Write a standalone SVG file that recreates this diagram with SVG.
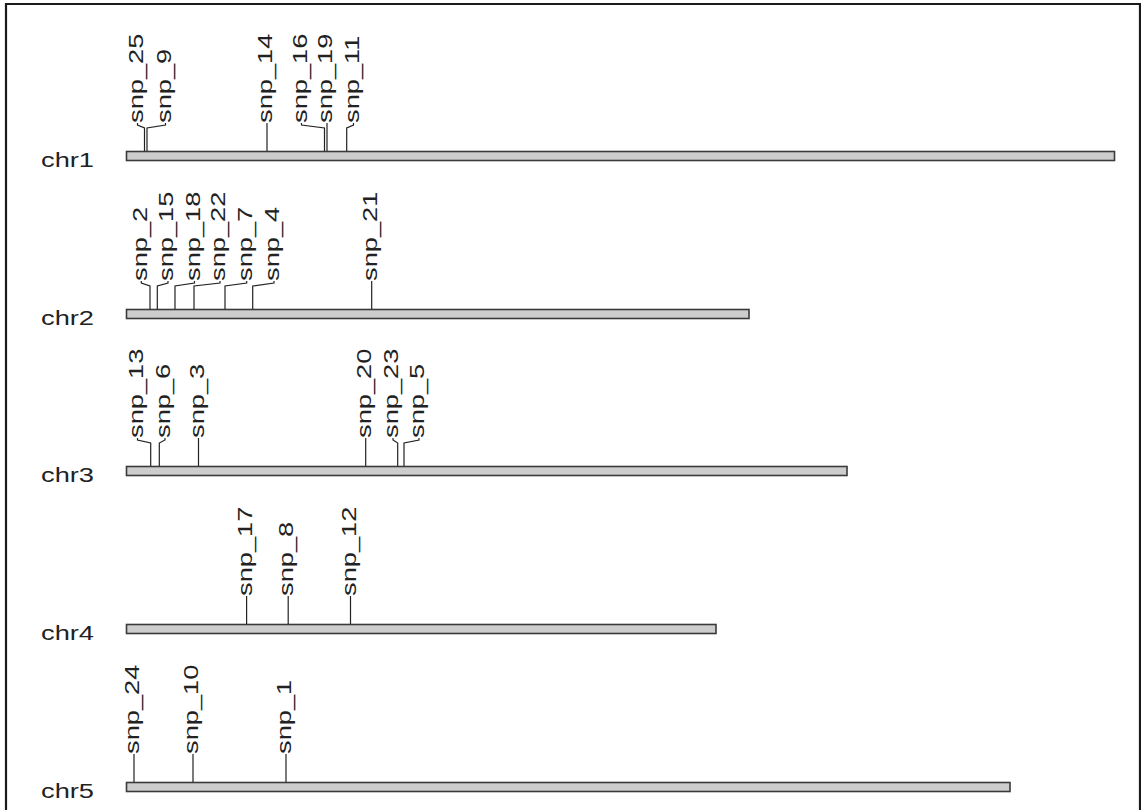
<svg xmlns="http://www.w3.org/2000/svg" width="1141" height="810" viewBox="0 0 1141 810">
<style>
.bg{fill:#ffffff}
.frame{fill:none;stroke:#1a1a1a;stroke-width:2.2}
.bar{fill:#cdcdcd;stroke:#3a3a3a;stroke-width:1.6}
.chr{font-family:"Liberation Sans",Arial,sans-serif;font-size:20.5px;fill:#222}
.lab{font-family:"Liberation Sans",Arial,sans-serif;font-size:20.5px;fill:#222}
.lead{fill:none;stroke:#222;stroke-width:1.2}
</style>
<rect class="bg" x="0" y="0" width="1141" height="810"/>
<path class="frame" d="M6,810 V4 H1140 V810"/>

<g id="chr1">
<rect class="bar" x="126.5" y="151.5" width="988" height="9"/>
<text class="chr" transform="translate(41,166.5) scale(1.33,1)">chr1</text>
</g>
<g id="chr2">
<rect class="bar" x="126.5" y="309.5" width="622.5" height="9"/>
<text class="chr" transform="translate(41,324.5) scale(1.33,1)">chr2</text>
</g>
<g id="chr3">
<rect class="bar" x="126.5" y="466.5" width="720.5" height="9"/>
<text class="chr" transform="translate(41,481.5) scale(1.33,1)">chr3</text>
</g>
<g id="chr4">
<rect class="bar" x="126.5" y="624.5" width="589.5" height="9"/>
<text class="chr" transform="translate(41,639.5) scale(1.33,1)">chr4</text>
</g>
<g id="chr5">
<rect class="bar" x="126.5" y="782.5" width="883.5" height="9"/>
<text class="chr" transform="translate(41,797.5) scale(1.33,1)">chr5</text>
</g>

<g id="connectors">
<polyline class="lead" points="144.5,151 144.5,128 137.5,125 137.5,123"/>
<polyline class="lead" points="147,151 147,128 165.5,125 165.5,123"/>
<polyline class="lead" points="267,151 267,123"/>
<polyline class="lead" points="324.5,151 324.5,128 301.5,125 301.5,123"/>
<polyline class="lead" points="327,151 327,123"/>
<polyline class="lead" points="346.7,151 346.7,128 353.5,125 353.5,123"/>

<polyline class="lead" points="150,309 150,286 141.3,283 141.3,281"/>
<polyline class="lead" points="157.3,309 157.3,286 168,283 168,281"/>
<polyline class="lead" points="175,309 175,286 194.5,283 194.5,281"/>
<polyline class="lead" points="194,309 194,286 220,283 220,281"/>
<polyline class="lead" points="225,309 225,286 246.7,283 246.7,281"/>
<polyline class="lead" points="252.7,309 252.7,286 274,283 274,281"/>
<polyline class="lead" points="371.7,309 371.7,281"/>

<polyline class="lead" points="150.7,466 150.7,443 137.5,440 137.5,438"/>
<polyline class="lead" points="159.3,466 159.3,443 165,440 165,438"/>
<polyline class="lead" points="198.5,466 198.5,438"/>
<polyline class="lead" points="365.7,466 365.7,438"/>
<polyline class="lead" points="397.7,466 397.7,443 393,440 393,438"/>
<polyline class="lead" points="404,466 404,443 419,440 419,438"/>

<polyline class="lead" points="246.6,624 246.6,596"/>
<polyline class="lead" points="288.2,624 288.2,596"/>
<polyline class="lead" points="350.5,624 350.5,596"/>

<polyline class="lead" points="134,782 134,754"/>
<polyline class="lead" points="193,782 193,754"/>
<polyline class="lead" points="286,782 286,754"/>
</g>

<g id="snp_25"><text class="lab" transform="translate(142.7,123) rotate(-90) scale(1.33,1)">snp_25</text></g>
<g id="snp_9"><text class="lab" transform="translate(170.7,123) rotate(-90) scale(1.33,1)">snp_9</text></g>
<g id="snp_14"><text class="lab" transform="translate(272.2,123) rotate(-90) scale(1.33,1)">snp_14</text></g>
<g id="snp_16"><text class="lab" transform="translate(306.7,123) rotate(-90) scale(1.33,1)">snp_16</text></g>
<g id="snp_19"><text class="lab" transform="translate(332.2,123) rotate(-90) scale(1.33,1)">snp_19</text></g>
<g id="snp_11"><text class="lab" transform="translate(358.7,123) rotate(-90) scale(1.33,1)">snp_11</text></g>

<g id="snp_2"><text class="lab" transform="translate(146.5,281) rotate(-90) scale(1.33,1)">snp_2</text></g>
<g id="snp_15"><text class="lab" transform="translate(173.2,281) rotate(-90) scale(1.33,1)">snp_15</text></g>
<g id="snp_18"><text class="lab" transform="translate(199.7,281) rotate(-90) scale(1.33,1)">snp_18</text></g>
<g id="snp_22"><text class="lab" transform="translate(225.2,281) rotate(-90) scale(1.33,1)">snp_22</text></g>
<g id="snp_7"><text class="lab" transform="translate(251.9,281) rotate(-90) scale(1.33,1)">snp_7</text></g>
<g id="snp_4"><text class="lab" transform="translate(279.2,281) rotate(-90) scale(1.33,1)">snp_4</text></g>
<g id="snp_21"><text class="lab" transform="translate(376.9,281) rotate(-90) scale(1.33,1)">snp_21</text></g>

<g id="snp_13"><text class="lab" transform="translate(142.7,438) rotate(-90) scale(1.33,1)">snp_13</text></g>
<g id="snp_6"><text class="lab" transform="translate(170.2,438) rotate(-90) scale(1.33,1)">snp_6</text></g>
<g id="snp_3"><text class="lab" transform="translate(203.7,438) rotate(-90) scale(1.33,1)">snp_3</text></g>
<g id="snp_20"><text class="lab" transform="translate(370.9,438) rotate(-90) scale(1.33,1)">snp_20</text></g>
<g id="snp_23"><text class="lab" transform="translate(398.2,438) rotate(-90) scale(1.33,1)">snp_23</text></g>
<g id="snp_5"><text class="lab" transform="translate(424.2,438) rotate(-90) scale(1.33,1)">snp_5</text></g>

<g id="snp_17"><text class="lab" transform="translate(251.8,596) rotate(-90) scale(1.33,1)">snp_17</text></g>
<g id="snp_8"><text class="lab" transform="translate(293.4,596) rotate(-90) scale(1.33,1)">snp_8</text></g>
<g id="snp_12"><text class="lab" transform="translate(355.7,596) rotate(-90) scale(1.33,1)">snp_12</text></g>

<g id="snp_24"><text class="lab" transform="translate(139.2,754) rotate(-90) scale(1.33,1)">snp_24</text></g>
<g id="snp_10"><text class="lab" transform="translate(198.2,754) rotate(-90) scale(1.33,1)">snp_10</text></g>
<g id="snp_1"><text class="lab" transform="translate(291.2,754) rotate(-90) scale(1.33,1)">snp_1</text></g>
</svg>
